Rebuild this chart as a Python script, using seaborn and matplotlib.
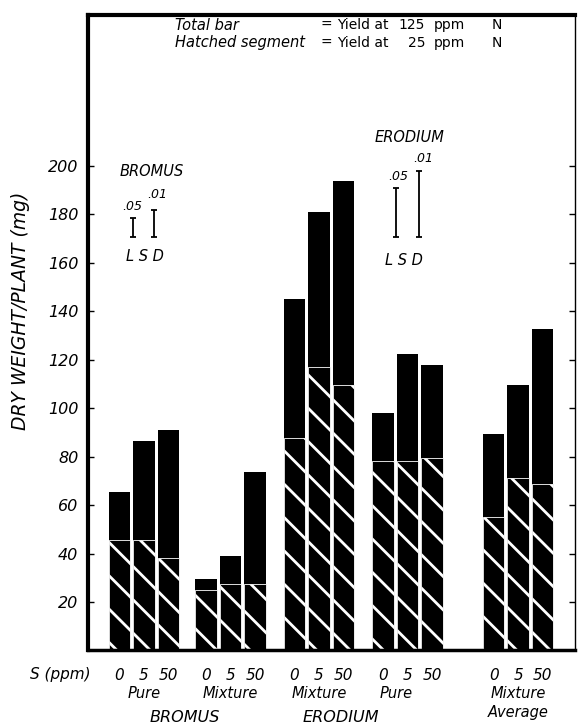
import pandas as pd
import matplotlib
matplotlib.use("Agg")
import matplotlib.pyplot as plt
import seaborn as sns

# Values (dry weight per plant, mg)
groups = ["Bromus Pure", "Bromus Mixture", "Erodium Mixture", "Erodium Pure", "Mixture Average"]
s_levels = ["0", "5", "50"]
total_125 = [[65.5, 86.5, 91], [29.5, 39, 73.5], [145, 181, 194], [98, 122.5, 118], [89.5, 109.5, 132.5]]
hatched_25 = [[45.5, 45.5, 38], [25, 27.5, 27.5], [87.5, 117, 109.5], [78, 78, 79.5], [55, 71, 68.5]]
group_labels = ["Pure", "Mixture", "Mixture", "Pure", "Mixture"]
lsd_base = 170.5
lsd_bromus = [8, 11.5]      # .05, .01
lsd_erodium = [20.5, 27.5]  # .05, .01
y_ticks = [20, 40, 60, 80, 100, 120, 140, 160, 180, 200]

# Layout (pixels of a 578 x 728 image)
W, H = 578, 728
X0_PX, SLOT_PX = 144, 24.5           # centre of first group, bar spacing
AX_L, AX_R, AX_T, AX_B = 88, 575, 15, 650.4
group_pos = [0, 3.53, 7.14, 10.76, 15.27]


def xd(px):
    return (px - X0_PX) / SLOT_PX


rows = []
for g, name in enumerate(groups):
    for k, s in enumerate(s_levels):
        rows.append({"group": name, "S": s, "pos": group_pos[g] + k - 1,
                     "total": total_125[g][k], "hatched": hatched_25[g][k]})
df = pd.DataFrame(rows)

sns.set_style("white")
plt.rcParams["font.family"] = ["DejaVu Sans"]
plt.rcParams["hatch.linewidth"] = 2.0
for key in ["text.color", "axes.labelcolor", "xtick.color", "ytick.color"]:
    plt.rcParams[key] = "black"

fig = plt.figure(figsize=(W / 100, H / 100), dpi=100)
ax = fig.add_axes([AX_L / W, 1 - AX_B / H, (AX_R - AX_L) / W, (AX_B - AX_T) / H])

# total bar = 125 ppm N, hatched segment = 25 ppm N
sns.barplot(data=df, x="pos", y="total", native_scale=True, width=0.88, color="black",
            saturation=1, errorbar=None, linewidth=0, ax=ax)
sns.barplot(data=df, x="pos", y="hatched", native_scale=True, width=0.88, color="black",
            saturation=1, errorbar=None, hatch="\\", edgecolor="white", linewidth=0.6, ax=ax)

ax.set_xlim(xd(AX_L), xd(AX_R))
ax.set_ylim(0, (AX_B - AX_T) / 2.422)
ax.set_xlabel("")
ax.set_ylabel("")

ax.set_xticks(df["pos"])
ax.set_xticklabels(df["S"], fontsize=11, style="italic")
ax.tick_params(axis="x", length=0, pad=13)
ax.set_yticks(y_ticks)
ax.set_yticklabels([str(v) for v in y_ticks], fontsize=11.5, style="italic")
ax.tick_params(axis="y", direction="in", length=4, width=1, left=True, right=True, pad=7)

for side, lw in [("left", 3), ("top", 3), ("bottom", 2.5), ("right", 1)]:
    ax.spines[side].set_visible(True)
    ax.spines[side].set_linewidth(lw)
    ax.spines[side].set_color("black")

# LSD bars
for (xs, lens) in [((133, 154), lsd_bromus), ((396, 419), lsd_erodium)]:
    for px, ln in zip(xs, lens):
        ax.errorbar(xd(px), lsd_base + ln / 2, yerr=ln / 2, fmt="none", ecolor="black",
                    elinewidth=1.3, capsize=2.5, capthick=1.3)


def ftext(px, py, s, **kw):
    kw.setdefault("ha", "center")
    kw.setdefault("va", "center")
    fig.text(px / W, 1 - py / H, s, **kw)


ftext(152, 172, "BROMUS", fontsize=10.5, style="italic")
ftext(132, 207, ".05", fontsize=9, style="italic")
ftext(157, 195, ".01", fontsize=9, style="italic")
ftext(145, 256, "L S D", fontsize=10.5, style="italic")

ftext(410, 137, "ERODIUM", fontsize=10.5, style="italic")
ftext(398, 177, ".05", fontsize=9, style="italic")
ftext(423, 158, ".01", fontsize=9, style="italic")
ftext(404, 260, "L S D", fontsize=10.5, style="italic")

# key at the top
ftext(175, 25, "Total bar", ha="left", fontsize=10.5, style="italic")
ftext(175, 43, "Hatched segment", ha="left", fontsize=10.5, style="italic")
for py, n in [(25, "125"), (43, "25")]:
    ftext(320, py, "=", ha="left", fontsize=10)
    ftext(337, py, "Yield at", ha="left", fontsize=10)
    ftext(425, py, n, ha="right", fontsize=10)
    ftext(434, py, "ppm", ha="left", fontsize=10)
    ftext(492, py, "N", ha="left", fontsize=10)

# labels below the axis
ftext(60, 675, "S (ppm)", fontsize=11, style="italic")
label_shift = [0, 0, 0, -11, 0]
for g, lab in enumerate(group_labels):
    ftext(X0_PX + group_pos[g] * SLOT_PX + label_shift[g], 693, lab, fontsize=10.5, style="italic")
ftext(X0_PX + group_pos[4] * SLOT_PX, 712, "Average", fontsize=10.5, style="italic")
ftext(185, 717, "BROMUS", fontsize=11.5, style="italic")
ftext(341, 717, "ERODIUM", fontsize=11.5, style="italic")

ftext(21, 311, "DRY WEIGHT/PLANT (mg)", fontsize=13.5, style="italic", rotation=90)

fig.savefig("out.png", dpi=100)
